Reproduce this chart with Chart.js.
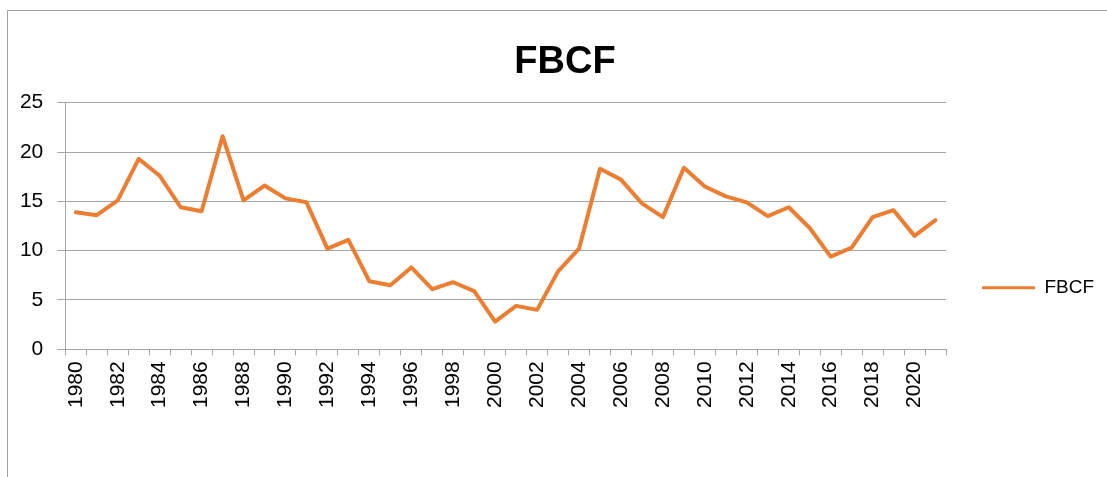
<!DOCTYPE html>
<html>
<head>
<meta charset="utf-8">
<script src="https://cdn.jsdelivr.net/npm/chart.js@4/dist/chart.umd.min.js"></script>
<style>
  html, body { margin: 0; padding: 0; background: #ffffff; }
  #wrap { position: relative; width: 1107px; height: 477px; overflow: hidden; }
  #frame { position: absolute; left: 7px; top: 10px; width: 1110px; height: 480px;
           border-top: 1px solid #a0a0a0; border-left: 1px solid #a0a0a0; box-sizing: border-box; }
  canvas { position: absolute; left: 0; top: 0; }
</style>
</head>
<body>
<div id="wrap">
  <div id="frame"></div>
  <canvas id="c" width="1107" height="477"></canvas>
</div>
<script>
// ---- data ----
const years = [1980, 1981, 1982, 1983, 1984, 1985, 1986, 1987, 1988, 1989,
               1990, 1991, 1992, 1993, 1994, 1995, 1996, 1997, 1998, 1999,
               2000, 2001, 2002, 2003, 2004, 2005, 2006, 2007, 2008, 2009,
               2010, 2011, 2012, 2013, 2014, 2015, 2016, 2017, 2018, 2019,
               2020, 2021];
const fbcf = [13.9, 13.6, 15.1, 19.3, 17.6, 14.4, 14.0, 21.6, 15.1, 16.6,
              15.3, 14.9, 10.2, 11.1, 6.9, 6.5, 8.3, 6.1, 6.8, 5.9,
              2.8, 4.4, 4.0, 7.9, 10.2, 18.3, 17.2, 14.8, 13.4, 18.4,
              16.5, 15.5, 14.9, 13.5, 14.4, 12.3, 9.4, 10.3, 13.4, 14.1,
              11.5, 13.1];
const shownYearLabels = [1980, 1982, 1984, 1986, 1988, 1990, 1992, 1994, 1996, 1998,
                         2000, 2002, 2004, 2006, 2008, 2010, 2012, 2014, 2016, 2018, 2020];
const yTickValues = [0, 5, 10, 15, 20, 25];
const seriesName = 'FBCF';
const titleText = 'FBCF';

// ---- chart ----
const FONT = "'Liberation Sans', Arial, sans-serif";
const GRID = '#a6a6a6';
const ORANGE = '#ED7D31';

// give the y-axis labels room to the left of the layout padding (avoid label clipping)
const yLabelRoom = {
  id: 'yLabelRoom',
  afterLayout(chart) {
    const s = chart.scales.y;
    s.left = 0;
    s.width = s.right;
  }
};

new Chart(document.getElementById('c'), {
  type: 'line',
  data: {
    labels: years.map(String),
    datasets: [{
      label: seriesName,
      data: fbcf,
      borderColor: ORANGE,
      backgroundColor: ORANGE,
      borderWidth: 4,
      pointRadius: 0,
      pointHoverRadius: 0,
      tension: 0,
      borderJoinStyle: 'round',
      borderCapStyle: 'round',
      fill: false
    }]
  },
  plugins: [yLabelRoom],
  options: {
    responsive: false,
    animation: false,
    devicePixelRatio: 1,
    layout: { padding: { left: 33, right: 10, top: 0, bottom: 0 } },
    plugins: {
      tooltip: { enabled: false },
      title: {
        display: true,
        text: titleText,
        color: '#000000',
        font: { family: FONT, size: 38, weight: 'bold', lineHeight: 1.2 },
        padding: { top: 39.7, bottom: 17.4 }
      },
      legend: {
        display: true,
        position: 'right',
        maxWidth: 151,
        title: { display: true, text: '', font: { size: 10, lineHeight: 1.2 }, padding: { top: 86.4, bottom: 0 } },
        labels: {
          color: '#000000',
          font: { family: FONT, size: 19 },
          boxWidth: 53,
          boxHeight: 3,
          padding: 36,
          generateLabels: (chart) => chart.data.datasets.map((ds, i) => ({
            text: ds.label,
            fillStyle: ds.borderColor,
            strokeStyle: ds.borderColor,
            fontColor: '#000000',
            lineWidth: 0,
            hidden: false,
            datasetIndex: i
          }))
        }
      }
    },
    scales: {
      x: {
        type: 'category',
        offset: true,
        afterFit: (s) => { s.height = 127.7; },
        grid: { display: true, drawOnChartArea: false, drawTicks: true, tickLength: 6, offset: true, color: GRID, lineWidth: 1 },
        border: { display: true, color: GRID, width: 1 },
        ticks: {
          autoSkip: false,
          minRotation: 90,
          maxRotation: 90,
          padding: 6,
          color: '#000000',
          font: { family: FONT, size: 21 },
          callback: function (value, index) {
            const y = years[index];
            return shownYearLabels.includes(y) ? String(y) : '';
          }
        }
      },
      y: {
        min: yTickValues[0],
        max: yTickValues[yTickValues.length - 1],
        afterFit: (s) => { s.width = 32.3; },
        afterBuildTicks: (s) => { s.ticks = yTickValues.map(v => ({ value: v })); },
        grid: { display: true, drawTicks: true, tickLength: 8, color: GRID, lineWidth: 1 },
        border: { display: true, color: GRID, width: 1 },
        ticks: {
          padding: 14,
          color: '#000000',
          font: { family: FONT, size: 21 }
        }
      }
    }
  }
});
</script>
</body>
</html>
